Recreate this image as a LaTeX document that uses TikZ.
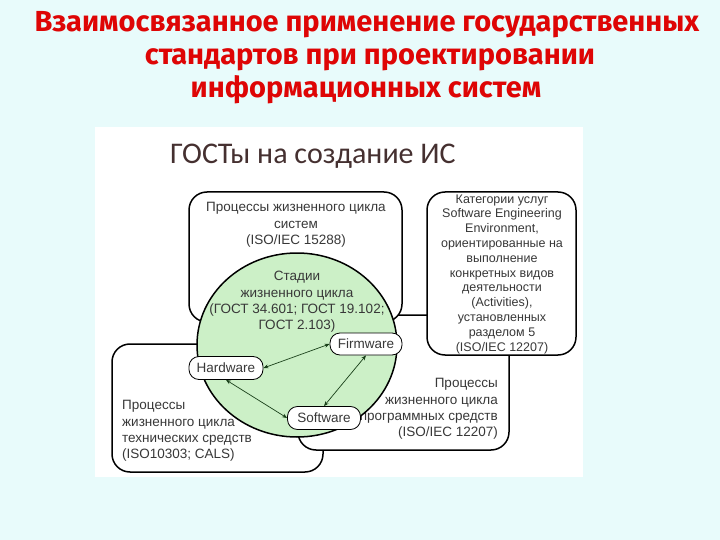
\documentclass[tikz,border=0pt]{standalone}
\usepackage{fontspec}
\setmainfont{Liberation Sans}
\newfontfamily\titlefont{Fira Sans}
\newfontfamily\subfont{Carlito}
\usetikzlibrary{arrows.meta,shapes.geometric}
\definecolor{bgc}{rgb}{0.91,0.985,0.985}
\definecolor{titlered}{rgb}{0.87,0.02,0.02}
\definecolor{greenfill}{rgb}{0.80,0.94,0.78}
\definecolor{txt}{rgb}{0.22,0.22,0.22}
\definecolor{subc}{rgb}{0.27,0.19,0.19}
\definecolor{arrc}{rgb}{0.1,0.25,0.1}
\begin{document}
\begin{tikzpicture}[x=1pt,y=-1pt,
 bigbox/.style={draw=black, line width=1.5pt, fill=white, rounded corners=18pt, inner sep=0pt},
 pill/.style={draw=black, line width=0.8pt, fill=white, rounded corners=10pt, minimum height=23pt, inner sep=0pt, font=\fontsize{13.5}{15}\selectfont, text=txt},
 body/.style={font=\fontsize{13.5}{16.4}\selectfont, text=txt, inner sep=0pt},
 small/.style={font=\fontsize{12.5}{14.8}\selectfont, text=txt, inner sep=0pt, align=center},
 link/.style={{Stealth[length=5pt,width=4pt]}-{Stealth[length=5pt,width=4pt]}, line width=0.7pt, draw=arrc},
 titletext/.style={font=\titlefont\bfseries\fontsize{29}{33}\selectfont, text=titlered, inner sep=0pt, anchor=base}
]
\useasboundingbox (0,0) rectangle (720,540);
\fill[bgc] (0,0) rectangle (720,540);
\fill[white] (95,127) rectangle (583,477);

% title
\node[titletext] (t1) at (367,32) {Взаимосвязанное применение государственных};
\node[titletext] (t2) at (370,65) {стандартов при проектировании};
\node[titletext] (t3) at (366,98) {информационных систем};

\node[font=\subfont\fontsize{30}{36}\selectfont, text=subc, inner sep=0pt, anchor=base west] (sub) at (170,164) {ГОСТы на создание ИС};

% big boxes
\node[bigbox, minimum width=211pt, minimum height=128pt] (llbox) at (217.5,408) {};
\node[bigbox, minimum width=211pt, minimum height=135pt] (lrbox) at (403.5,382.5) {};
\node[bigbox, minimum width=213pt, minimum height=130pt] (topbox) at (295.5,257) {};
\node[bigbox, minimum width=149pt, minimum height=163pt] (rbox) at (501.5,273.5) {};

% texts in boxes
\node[body, align=center] (toptext) at (296,225) {Процессы жизненного цикла\\систем\\(ISO/IEC 15288)};
\node[small] (rtext) at (502,274) {Категории услуг\\Software Engineering\\Environment,\\ориентированные на\\выполнение\\конкретных видов\\деятельности\\(Activities),\\установленных\\разделом 5\\(ISO/IEC 12207)};
\node[body, align=right, anchor=east] (lrtext) at (498,409) {Процессы\\жизненного цикла\\программных средств\\(ISO/IEC 12207)};
\node[body, align=left, anchor=west] (lltext) at (122,431) {Процессы\\жизненного цикла\\технических средств\\(ISO10303; CALS)};

% circle
\node[ellipse, draw=black, line width=1.5pt, fill=greenfill, minimum width=200pt, minimum height=184pt, inner sep=0pt] (circ) at (297,345) {};
\node[body, align=center] (ctext) at (297,302) {Стадии\\жизненного цикла\\(ГОСТ 34.601; ГОСТ 19.102;\\ГОСТ 2.103)};

% pills
\node[pill, minimum width=72pt, minimum height=22pt] (fw) at (366,344) {Firmware};
\node[pill, minimum width=74pt] (hw) at (226,368) {Hardware};
\node[pill, minimum width=73pt] (sw) at (324,418) {Software};

% arrows
\draw[link] (hw.east) -- (fw.west);
\draw[link] (hw.south) -- (sw.west);
\draw[link] (fw.south) -- (sw.north);
\end{tikzpicture}
\end{document}
